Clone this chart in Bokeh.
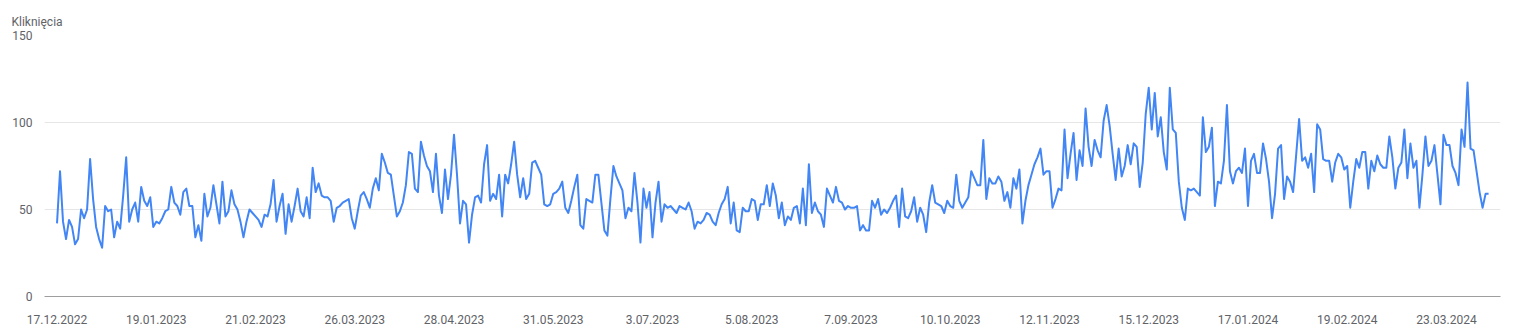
import datetime as dt
from bokeh.plotting import figure
from bokeh.models import FixedTicker, CustomJSTickFormatter, Range1d, ColumnDataSource
from bokeh.embed import file_html
from bokeh.resources import INLINE

# ---------------- data ----------------
start_date = "17.12.2022"
series_name = "Kliknięcia"

clicks = [
    # 17.12.2022 -
    42, 72, 43, 33, 44, 40, 30, 33, 50, 45, 50, 79, 56, 40, 33, 28, 52, 49, 50, 34,
    43, 39, 58, 80, 43, 50, 54, 43, 63, 55, 52, 57, 40, 43, 42, 45, 49, 50, 63, 54,
    52, 47, 60, 62, 52, 52,
    34, 41, 32, 59, 46, 51, 64, 53, 42, 66, 46, 49, 61, 53, 50, 43, 34, 43, 50, 48,
    46, 44, 40, 47, 46, 53, 67, 43, 52, 59, 36, 53, 43, 52, 62, 49, 46, 57, 45, 74,
    60, 65, 58, 57, 57, 55, 43,
    51, 52, 54, 55, 56, 45, 39, 49, 58, 60, 56, 51, 62, 68, 61, 82, 77, 71, 70, 58,
    46, 49, 54, 64, 83, 82, 62, 60, 89, 81, 75, 72, 60, 82, 58, 48, 73, 56, 70, 93,
    70, 42, 55, 53, 31,
    47, 57, 58, 54, 76, 87, 55, 59, 56, 70, 46, 70, 65, 76, 89, 70, 57, 68, 56, 59,
    77, 78, 74, 70, 53, 52, 53, 59, 60, 62, 66, 51, 48, 55, 63, 70, 41, 39, 56, 55,
    54, 70, 70, 54, 38, 35, 56, 75,
    69, 65, 61, 45, 51, 49, 71, 54, 31, 62, 51, 60, 34, 54, 66, 43, 53, 51, 52, 50,
    48, 52, 51, 50, 54, 49, 39, 43, 42, 44, 48, 47, 43, 41, 48, 53, 56, 63, 42, 54,
    38, 37, 51, 49, 49, 56, 55,
    44, 53, 53, 64, 52, 65, 58, 45, 54, 41, 46, 44, 51, 52, 42, 62, 41, 76, 48, 54,
    49, 47, 40, 62, 58, 54, 63, 55, 54, 50, 52, 51, 51, 52, 38, 41, 38, 38, 55, 51,
    56, 47, 50, 48, 51, 55, 58,
    40, 62, 46, 45, 49, 57, 43, 51, 47, 37, 54, 64, 54, 53, 52, 48, 55, 52, 51, 70,
    55, 51, 54, 57, 72, 68, 64, 64, 90, 56, 68, 65, 65, 69, 66, 55, 60, 51, 68, 62,
    73, 42, 55,
    64, 70, 76, 80, 85, 70, 72, 72, 51, 56, 62, 61, 96, 68, 82, 94, 67, 84, 75, 108,
    86, 75, 90, 84, 80, 101, 110, 98, 82, 67, 85, 69, 75, 87, 76, 88, 86, 63, 77, 105,
    120, 96, 117, 92, 103, 83, 73, 120, 96, 94,
    66, 51, 44, 62, 61, 62, 60, 58, 103, 83, 86, 97, 52, 66, 65, 78, 110, 72, 65, 72,
    74, 71, 85, 52, 78, 82, 71, 71, 88, 79, 66, 45, 59, 85, 87, 56, 69, 66, 60, 81,
    102, 78, 80, 74, 82, 60, 99,
    96, 79, 78, 78, 66, 77, 82, 80, 73, 75, 51, 66, 79, 74, 83, 83, 62, 78, 72, 81,
    76, 74, 74, 92, 80, 62, 74, 77, 96, 68, 88, 74, 78, 51, 70, 92, 75, 78, 87, 70,
    53, 93, 87, 87, 75, 71, 64, 96, 86, 123, 85, 84, 72, 60, 51, 59, 59,
]

tick_labels = [
    "17.12.2022", "19.01.2023", "21.02.2023", "26.03.2023", "28.04.2023",
    "31.05.2023", "3.07.2023", "5.08.2023", "7.09.2023", "10.10.2023",
    "12.11.2023", "15.12.2023", "17.01.2024", "19.02.2024", "23.03.2024",
]
y_ticks = [0, 50, 100, 150]

# ---------------- helpers ----------------
EPOCH = dt.datetime(1970, 1, 1)


def to_ms(d):
    return (d - EPOCH).total_seconds() * 1000.0


start = dt.datetime.strptime(start_date, "%d.%m.%Y")
dates = [start + dt.timedelta(days=i) for i in range(len(clicks))]
tick_ms = [to_ms(dt.datetime.strptime(t, "%d.%m.%Y")) for t in tick_labels]

source = ColumnDataSource(data=dict(date=dates, clicks=clicks))

TEXT = "#5f6368"
FONT = "Roboto"

p = figure(
    width=1513, height=335,
    x_axis_type="datetime",
    output_backend="svg",
    toolbar_location=None,
    min_border_left=44, min_border_right=13,
    min_border_top=35, min_border_bottom=39,
    x_range=Range1d(to_ms(start - dt.timedelta(days=4.16)),
                    to_ms(start + dt.timedelta(days=479.96))),
    y_range=Range1d(0, 150),
    title=series_name,
)
p.outline_line_color = None
p.background_fill_color = "white"
p.border_fill_color = "white"

# series title at top-left
p.title.align = "left"
p.title.offset = -33
p.title.standoff = 14
p.title.text_font = FONT
p.title.text_font_size = "12px"
p.title.text_font_style = "normal"
p.title.text_color = TEXT

p.line(x="date", y="clicks", source=source, line_color="#4285f4",
       line_width=2, line_join="round")

# y axis
p.yaxis.ticker = FixedTicker(ticks=y_ticks)
p.yaxis.axis_line_color = None
p.yaxis.major_tick_line_color = None
p.yaxis.minor_tick_line_color = None
p.yaxis.major_label_text_font = FONT
p.yaxis.major_label_text_font_size = "12px"
p.yaxis.major_label_text_color = TEXT
p.yaxis.major_label_standoff = 6

p.ygrid.ticker = FixedTicker(ticks=y_ticks)
p.ygrid.grid_line_color = "#e6e6e6"
p.ygrid.grid_line_width = 1
p.xgrid.visible = False

# x axis
p.xaxis.ticker = FixedTicker(ticks=tick_ms)
p.xaxis.formatter = CustomJSTickFormatter(code="""
    const d = new Date(tick);
    const m = String(d.getUTCMonth() + 1).padStart(2, "0");
    return d.getUTCDate() + "." + m + "." + d.getUTCFullYear();
""")
p.xaxis.axis_line_color = "#9e9e9e"
p.xaxis.axis_line_width = 1
p.xaxis.major_tick_line_color = None
p.xaxis.minor_tick_line_color = None
p.xaxis.major_label_text_font = FONT
p.xaxis.major_label_text_font_size = "12px"
p.xaxis.major_label_text_color = TEXT
p.xaxis.major_label_standoff = 12

open("out.html", "w").write(file_html(p, INLINE))
